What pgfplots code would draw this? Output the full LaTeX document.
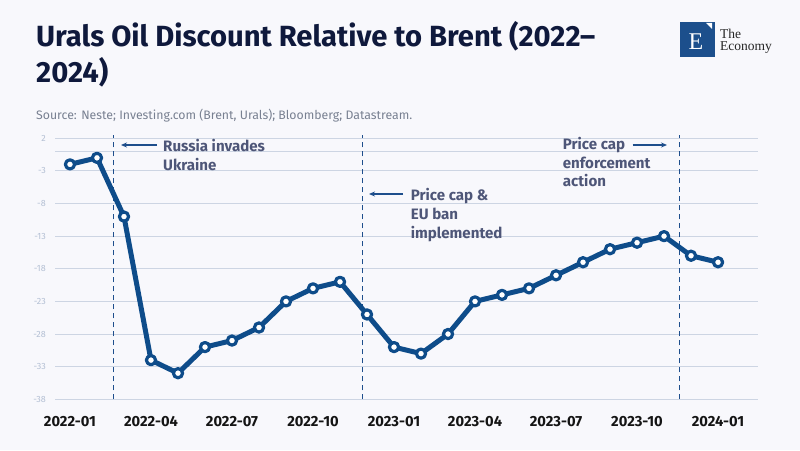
\documentclass[border=0pt]{standalone}
\usepackage{fontspec}
\setmainfont{Fira Sans}
\newfontfamily\logofont{Liberation Serif}
\usepackage{pgfplots}
\pgfplotsset{compat=1.18}
\usetikzlibrary{arrows.meta}
\definecolor{bg}{RGB}{248,248,252}
\definecolor{titlec}{RGB}{15,25,60}
\definecolor{srcc}{RGB}{120,128,145}
\definecolor{gridc}{RGB}{205,213,227}
\definecolor{ytc}{RGB}{180,192,212}
\definecolor{linec}{RGB}{14,76,138}
\definecolor{dashc}{RGB}{30,78,140}
\definecolor{annc}{RGB}{78,86,120}
\definecolor{logob}{RGB}{28,79,140}
\pgfplotstableread{
m v
0 -2
1 -1
2 -10
3 -32
4 -34
5 -30
6 -29
7 -27
8 -23
9 -21
10 -20
11 -25
12 -30
13 -31
14 -28
15 -23
16 -22
17 -21
18 -19
19 -17
20 -15
21 -14
22 -13
23 -16
24 -17
}\datatable
\begin{document}
\begin{tikzpicture}
\useasboundingbox (0pt,0pt) rectangle (800pt,450pt);
\fill[bg] (0pt,0pt) rectangle (800pt,450pt);
% title
\node[anchor=base west, inner sep=0pt, text=titlec, font=\fontsize{29.2}{34}\selectfont\bfseries] at (36pt,403pt) {Urals Oil Discount Relative to Brent (2022–};
\node[anchor=base west, inner sep=0pt, text=titlec, font=\fontsize{29.2}{34}\selectfont\bfseries] at (36pt,367pt) {2024)};
\node[anchor=base west, inner sep=0pt, text=srcc, font=\fontsize{12.3}{14}\selectfont] at (36pt,330pt) {Source: Neste; Investing.com (Brent, Urals); Bloomberg; Datastream.};
% logo
\fill[logob] (680pt,393.3pt) rectangle (715pt,428.3pt);
\node[anchor=base, inner sep=0pt, text=white, font=\fontsize{24}{24}\selectfont\logofont] at (696pt,400pt) {E};
\fill[white] (706pt,427pt) -- (712pt,427pt) -- (712pt,421pt) -- cycle;
\node[anchor=north west, inner sep=0pt, align=left, text=black!85, font=\fontsize{13.5}{11.5}\selectfont\logofont] at (720pt,421pt) {The\\Economy};
\begin{axis}[
  name=ax,
  at={(55pt,50.7pt)}, anchor=south west,
  scale only axis, width=703pt, height=264.3pt,
  xmin=-0.555, xmax=25.48, ymin=-38, ymax=2.5,
  clip=false,
  axis line style={draw=none},
  major tick length=0pt,
  tick style={draw=none},
  ytick={-38,-33,-28,-23,-18,-13,-8,-3,2},
  yticklabels={-38,-33,-28,-23,-18,-13,-8,-3,2},
  extra y ticks={0}, extra y tick labels={},
  extra y tick style={ymajorgrids=true, major grid style={gridc, line width=1pt}},
  ymajorgrids,
  major grid style={gridc, line width=1pt},
  xtick={0,3,6,9,12,15,18,21,24},
  xticklabels={2022-01,2022-04,2022-07,2022-10,2023-01,2023-04,2023-07,2023-10,2024-01},
  yticklabel style={anchor=east, inner sep=0pt, xshift=-9pt, text=ytc, font=\fontsize{9}{10}\selectfont},
  xticklabel style={anchor=base, inner sep=0pt, yshift=-26.7pt, text=black!92, font=\fontsize{14.7}{16}\selectfont\bfseries},
]
\draw[dashc, line width=1pt, dash pattern=on 5pt off 4pt] (axis cs:1.6,-38) -- (axis cs:1.6,2.5);
\draw[dashc, line width=1pt, dash pattern=on 5pt off 4pt] (axis cs:10.83,-38) -- (axis cs:10.83,2.5);
\draw[dashc, line width=1pt, dash pattern=on 5pt off 4pt] (axis cs:22.57,-38) -- (axis cs:22.57,2.5);
\addplot[linec, line width=5pt, line join=round, mark=*, mark size=4.6pt,
  mark options={fill=white, draw=linec, line width=3.2pt, solid}] table[x=m, y=v] {\datatable};
\end{axis}
% annotations
\tikzset{ann/.style={anchor=base west, inner sep=0pt, text=annc, font=\fontsize{15.1}{17}\selectfont\bfseries},
  arr/.style={dashc, line width=1.2pt, -{Stealth[length=6pt,width=5pt]}}}
\draw[arr] (157pt,305pt) -- (121pt,305pt);
\node[ann] at (163pt,298.3pt) {Russia invades};
\node[ann] at (163pt,279.6pt) {Ukraine};
\draw[arr] (403pt,256pt) -- (369pt,256pt);
\node[ann] at (410.7pt,249pt) {Price cap \&};
\node[ann] at (410.7pt,230.3pt) {EU ban};
\node[ann] at (410.7pt,211.6pt) {implemented};
\draw[arr] (632.7pt,305pt) -- (667pt,305pt);
\node[ann] at (562.7pt,300pt) {Price cap};
\node[ann] at (562.7pt,281.7pt) {enforcement};
\node[ann] at (562.7pt,263pt) {action};
\end{tikzpicture}
\end{document}
